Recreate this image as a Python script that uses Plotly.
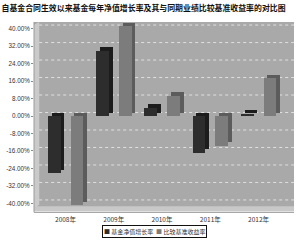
import plotly.graph_objects as go

years = ["2008年", "2009年", "2010年", "2011年", "2012年"]
fund_growth = [-26.2, 29.8, 3.8, -16.8, 1.0]
benchmark = [-40.8, 41.0, 9.3, -13.7, 17.2]
ytick_vals = [-40, -32, -24, -16, -8, 0, 8, 16, 24, 32, 40]
ytick_text = ["%.2f%%" % v for v in ytick_vals]
series_names = ["基金净值增长率", "比较基准收益率"]
front_colors = ["#2d2d2d", "#7c7c7c"]
side_colors = ["#1c1c1c", "#5c5c5c"]

xpos = list(range(len(years)))
W = 0.265           # front face width (axis units)
DX = 0.08           # depth shift in x
DY = 1.6            # depth shift in y (%)

fig = go.Figure()

def add_series(vals, offset, front, side, name):
    fig.add_trace(go.Bar(
        x=xpos, y=vals, base=[DY] * len(vals), offset=offset + DX, width=W,
        marker=dict(color=side, line=dict(width=0)), showlegend=False,
        hoverinfo="skip"))
    fig.add_trace(go.Bar(
        x=xpos, y=vals, base=[0] * len(vals), offset=offset, width=W,
        marker=dict(color=front, line=dict(width=0)), name=name, showlegend=False))

add_series(fund_growth, -0.367, front_colors[0], side_colors[0], series_names[0])
add_series(benchmark, 0.105, front_colors[1], side_colors[1], series_names[1])

font_cjk = "Noto Sans CJK SC"

shapes = [
    dict(type="path", xref="paper", yref="paper",
         path="M 0 0 L 0.02 0.03 L 0.02 1 L 0 0.985 Z",
         fillcolor="#cacaca", line=dict(width=0), layer="below"),
    dict(type="rect", xref="paper", yref="paper", x0=0, x1=1, y0=-0.005, y1=0.02,
         fillcolor="#c8c8c8", line=dict(width=0), layer="below"),
    dict(type="line", xref="paper", yref="paper", x0=0, x1=1, y0=-0.012, y1=-0.012,
         line=dict(color="#8a8a8a", width=1)),
    dict(type="line", xref="paper", yref="paper", x0=0, x1=0, y0=-0.012, y1=1,
         line=dict(color="#9a9a9a", width=1)),
]
for v in ytick_vals:
    shapes.append(dict(type="line", xref="paper", yref="y", x0=0.02, x1=1,
                       y0=v + DY, y1=v + DY, layer="below",
                       line=dict(color="#e0e0e0", width=1, dash="dot")))

legend_text = (
    "<span style='color:%s'>■</span> %s  <span style='color:%s'>■</span> %s"
    % (front_colors[0], series_names[0], front_colors[1], series_names[1]))

fig.update_layout(
    width=300, height=242,
    margin=dict(l=30, r=6, t=22, b=32),
    paper_bgcolor="white", plot_bgcolor="#a9a9a9",
    barmode="overlay", bargap=0, showlegend=False,
    title=dict(text="<b>自基金合同生效以来基金每年净值增长率及其与同期业绩比较基准收益率的对比图</b>",
               x=0.005, xanchor="left", y=0.965, yanchor="middle",
               font=dict(family=font_cjk, size=7.9, color="#111")),
    xaxis=dict(range=[-0.653, 4.735], tickvals=xpos, ticktext=years,
               showgrid=False, zeroline=False, ticks="", ticklabelstandoff=4,
               tickfont=dict(family=font_cjk, size=6.5, color="#333")),
    yaxis=dict(range=[-43, 43], tickvals=ytick_vals, ticktext=ytick_text,
               showgrid=False, zeroline=False, ticks="outside", ticklen=2,
               tickcolor="#888", tickfont=dict(family="Liberation Sans", size=6.3, color="#333")),
    shapes=shapes,
    annotations=[dict(text=legend_text, xref="paper", yref="paper",
                      x=(152 - 30) / 264, y=-(231 - 210) / 188,
                      xanchor="center", yanchor="middle", showarrow=False,
                      bordercolor="#111", borderwidth=1, borderpad=1, bgcolor="white",
                      font=dict(family=font_cjk, size=6, color="#333"))],
)

fig.write_html("out.html")
